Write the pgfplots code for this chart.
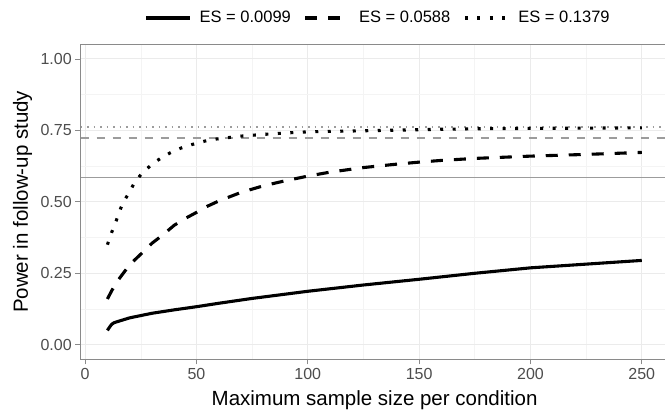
\documentclass[border=0pt]{standalone}
\usepackage{pgfplots}
\pgfplotsset{compat=1.18}
\usepackage{fontspec}
\setmainfont{Liberation Sans}

\definecolor{gridmaj}{HTML}{EBEBEB}
\definecolor{gridmin}{HTML}{F4F4F4}
\definecolor{frame}{HTML}{8A8A8A}
\definecolor{refline}{HTML}{9C9C9C}
\definecolor{ticktext}{HTML}{4D4D4D}

\begin{document}
\begin{tikzpicture}
  % page = 665 x 414, panel lower-left at origin
  \useasboundingbox (-80.7pt,-55pt) rectangle (584.3pt,359pt);
  \begin{axis}[
      scale only axis, width=587.8pt, height=314.3pt,
      xmin=-2, xmax=262, ymin=-0.05, ymax=1.05,
      xtick={0,50,...,250}, minor xtick={25,75,...,225},
      ytick={0,0.25,0.5,0.75,1}, minor ytick={0.125,0.375,0.625,0.875},
      grid=both,
      major grid style={gridmaj, line width=1pt},
      minor grid style={gridmin, line width=0.6pt},
      axis line style={frame, line width=0.8pt},
      tick align=outside, xtick pos=bottom, ytick pos=left,
      major tick length=5.5pt, minor tick length=0pt,
      major tick style={frame, line width=0.8pt},
      /pgf/number format/assume math mode=true,
      yticklabel style={/pgf/number format/fixed, /pgf/number format/fixed zerofill, /pgf/number format/precision=2},
      scaled y ticks=false,
      ticklabel style={font=\fontsize{16}{19}\selectfont, text=ticktext},
      xlabel={Maximum sample size per condition},
      ylabel={Power in follow-up study},
      label style={font=\fontsize{20.5}{24}\selectfont},
      xlabel style={at={(axis description cs:0.5,0)}, anchor=base, yshift=-47pt},
      ylabel style={at={(axis description cs:-0.0897,0.5)}, anchor=base},
      legend columns=3,
      legend style={at={(axis description cs:0.506,1.085)}, anchor=center, draw=none, fill=none,
        font=\fontsize{16.5}{19}\selectfont, /tikz/every even column/.append style={column sep=11pt}},
      legend image code/.code={\draw[#1] (0pt,0pt) -- (44pt,0pt);},
    ]
    % reference lines
    \addplot[refline, line width=1.4pt, forget plot] coordinates {(-2,0.586) (262,0.586)};
    \addplot[refline, line width=1.4pt, dash pattern=on 8pt off 8pt, forget plot] coordinates {(-2,0.724) (262,0.724)};
    \addplot[refline, line width=1.4pt, dash pattern=on 1.5pt off 5pt, forget plot] coordinates {(-2,0.762) (262,0.762)};

    % ES = 0.0099
    \addplot[black, line width=3.1pt] coordinates {
      (10,0.05) (11,0.062) (12,0.072) (13,0.077) (15,0.082) (20,0.094) (30,0.11)
      (40,0.122) (50,0.133) (60,0.145) (75,0.162) (100,0.187) (125,0.209)
      (150,0.229) (175,0.25) (200,0.269) (225,0.282) (250,0.295)};
    \addlegendentry{\hspace{6pt}ES = 0.0099}
    % ES = 0.0588
    \addplot[black, line width=3.1pt, dash pattern=on 12pt off 11pt] coordinates {
      (10,0.16) (12,0.19) (15,0.228) (20,0.28) (25,0.317) (30,0.355) (35,0.385)
      (40,0.418) (45,0.442) (50,0.463) (55,0.485) (60,0.503) (70,0.533) (80,0.556)
      (90,0.574) (100,0.59) (110,0.604) (125,0.62) (140,0.632) (150,0.639)
      (160,0.645) (175,0.652) (200,0.66) (225,0.666) (250,0.673)};
    \addlegendentry{\hspace{6pt}ES = 0.0588}
    % ES = 0.1379
    \addplot[black, line width=3.1pt, dash pattern=on 3pt off 9.5pt] coordinates {
      (10,0.35) (12,0.395) (14,0.435) (16,0.478) (18,0.51) (20,0.535) (22,0.565)
      (25,0.595) (30,0.632) (35,0.658) (40,0.679) (45,0.694) (50,0.705) (55,0.715)
      (60,0.721) (70,0.73) (80,0.736) (90,0.741) (100,0.745) (120,0.748)
      (140,0.751) (160,0.754) (180,0.756) (200,0.757) (225,0.758) (250,0.759)};
    \addlegendentry{\hspace{6pt}ES = 0.1379}
  \end{axis}
\end{tikzpicture}
\end{document}
